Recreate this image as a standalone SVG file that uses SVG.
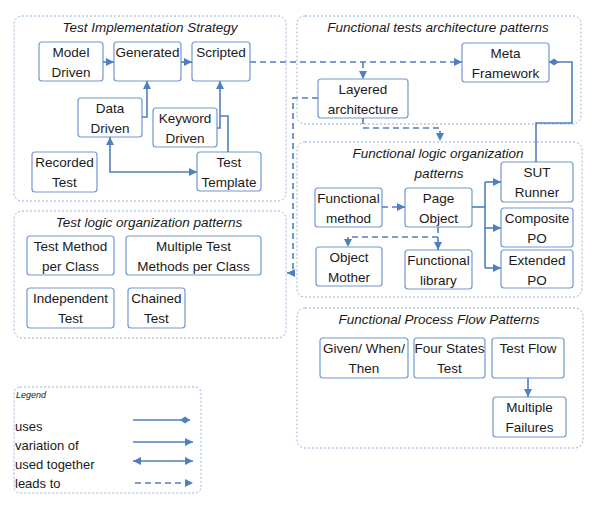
<svg xmlns="http://www.w3.org/2000/svg" width="593" height="505" viewBox="0 0 593 505">
<style>
.grp{fill:none;stroke:#8fb0da;stroke-width:1;stroke-dasharray:2,2}
.gt{font-family:"Liberation Sans",Arial,sans-serif;font-size:13.5px;font-style:italic;fill:#1a1a1a;text-anchor:middle}
.box{fill:#fff;stroke:#7098cf;stroke-width:1.2}
.t{font-family:"Liberation Sans",Arial,sans-serif;font-size:13.5px;fill:#1a1a1a;text-anchor:middle}
.lt{font-family:"Liberation Sans",Arial,sans-serif;font-size:13px;fill:#1a1a1a}
.c{fill:none;stroke:#4f7fc0;stroke-width:1.6}
.d{fill:none;stroke:#4f7fc0;stroke-width:1.6;stroke-dasharray:6,4}
</style>
<defs>
<marker id="ar" markerUnits="userSpaceOnUse" markerWidth="9" markerHeight="8" refX="8" refY="4" orient="auto-start-reverse">
<path d="M0,0 L8,4 L0,8 z" fill="#4f7fc0"/>
</marker>
<marker id="dm" markerUnits="userSpaceOnUse" markerWidth="11" markerHeight="8" refX="10" refY="4" orient="auto">
<path d="M0,4 L5,0.5 L10,4 L5,7.5 z" fill="#4f7fc0"/>
</marker>
</defs>
<rect width="593" height="505" fill="#fff"/>

<g id="group-impl">
<rect class="grp" x="14" y="16" width="272" height="185" rx="8"/>
<text class="gt" x="150" y="32">Test Implementation Strategy</text>
</g>
<g id="group-arch">
<rect class="grp" x="297" y="16" width="284" height="108" rx="8"/>
<text class="gt" x="438" y="32">Functional tests architecture patterns</text>
</g>
<g id="group-logic">
<rect class="grp" x="297" y="142" width="285" height="155" rx="8"/>
<text class="gt" x="438" y="158">Functional logic organization</text>
<text class="gt" x="439" y="178">patterns</text>
</g>
<g id="group-testlogic">
<rect class="grp" x="14" y="211" width="272" height="127" rx="8"/>
<text class="gt" x="149" y="227">Test logic organization patterns</text>
</g>
<g id="group-flow">
<rect class="grp" x="297" y="308" width="286" height="140" rx="8"/>
<text class="gt" x="439" y="324">Functional Process Flow Patterns</text>
</g>

<g id="model-driven"><rect class="box" x="39" y="42" width="64" height="39" rx="3"/><text class="t" x="71" y="57">Model</text><text class="t" x="71" y="77">Driven</text></g>
<g id="generated"><rect class="box" x="114" y="42" width="67" height="39" rx="3"/><text class="t" x="147.500" y="57">Generated</text></g>
<g id="scripted"><rect class="box" x="192" y="42" width="58" height="39" rx="3"/><text class="t" x="221" y="57">Scripted</text></g>
<g id="data-driven"><rect class="box" x="78" y="98" width="64" height="39" rx="3"/><text class="t" x="110" y="113">Data</text><text class="t" x="110" y="133">Driven</text></g>
<g id="keyword-driven"><rect class="box" x="153" y="108" width="64" height="39" rx="3"/><text class="t" x="185" y="123">Keyword</text><text class="t" x="185" y="143">Driven</text></g>
<g id="recorded-test"><rect class="box" x="32" y="152" width="65" height="40" rx="3"/><text class="t" x="64.500" y="167">Recorded</text><text class="t" x="64.500" y="187">Test</text></g>
<g id="test-template"><rect class="box" x="197" y="152" width="64" height="39" rx="3"/><text class="t" x="229" y="167">Test</text><text class="t" x="229" y="187">Template</text></g>

<g id="meta-framework"><rect class="box" x="462" y="43" width="87" height="39" rx="3"/><text class="t" x="505.500" y="58">Meta</text><text class="t" x="505.500" y="78">Framework</text></g>
<g id="layered-architecture"><rect class="box" x="318" y="79" width="90" height="39" rx="3"/><text class="t" x="363" y="94">Layered</text><text class="t" x="363" y="114">architecture</text></g>

<g id="functional-method"><rect class="box" x="315" y="188" width="67" height="39" rx="3"/><text class="t" x="348.500" y="203">Functional</text><text class="t" x="348.500" y="223">method</text></g>
<g id="page-object"><rect class="box" x="405" y="188" width="67" height="39" rx="3"/><text class="t" x="438.500" y="203">Page</text><text class="t" x="438.500" y="223">Object</text></g>
<g id="sut-runner"><rect class="box" x="501" y="162" width="72" height="40" rx="3"/><text class="t" x="537" y="177">SUT</text><text class="t" x="537" y="197">Runner</text></g>
<g id="composite-po"><rect class="box" x="501" y="208" width="72" height="39" rx="3"/><text class="t" x="537" y="223">Composite</text><text class="t" x="537" y="243">PO</text></g>
<g id="extended-po"><rect class="box" x="501" y="250" width="72" height="38" rx="3"/><text class="t" x="537" y="265">Extended</text><text class="t" x="537" y="285">PO</text></g>
<g id="object-mother"><rect class="box" x="316" y="247" width="66" height="39" rx="3"/><text class="t" x="349" y="262">Object</text><text class="t" x="349" y="282">Mother</text></g>
<g id="functional-library"><rect class="box" x="405" y="250" width="67" height="39" rx="3"/><text class="t" x="438.500" y="265">Functional</text><text class="t" x="438.500" y="285">library</text></g>

<g id="test-method-per-class"><rect class="box" x="27" y="236" width="87" height="39" rx="3"/><text class="t" x="70.500" y="251">Test Method</text><text class="t" x="70.500" y="271">per Class</text></g>
<g id="multiple-test-methods"><rect class="box" x="126" y="236" width="135" height="39" rx="3"/><text class="t" x="193.500" y="251">Multiple Test</text><text class="t" x="193.500" y="271">Methods per Class</text></g>
<g id="independent-test"><rect class="box" x="27" y="288" width="87" height="40" rx="3"/><text class="t" x="70.500" y="303">Independent</text><text class="t" x="70.500" y="323">Test</text></g>
<g id="chained-test"><rect class="box" x="128" y="288" width="57" height="40" rx="3"/><text class="t" x="156.500" y="303">Chained</text><text class="t" x="156.500" y="323">Test</text></g>

<g id="given-when-then"><rect class="box" x="320" y="338" width="88" height="40" rx="3"/><text class="t" x="364" y="353">Given/ When/</text><text class="t" x="364" y="373">Then</text></g>
<g id="four-states-test"><rect class="box" x="414" y="338" width="71" height="40" rx="3"/><text class="t" x="449.500" y="353">Four States</text><text class="t" x="449.500" y="373">Test</text></g>
<g id="test-flow"><rect class="box" x="492" y="338" width="72" height="40" rx="3"/><text class="t" x="528" y="353">Test Flow</text></g>
<g id="multiple-failures"><rect class="box" x="493" y="397" width="73" height="40" rx="3"/><text class="t" x="529.500" y="412">Multiple</text><text class="t" x="529.500" y="432">Failures</text></g>

<g id="connectors">
<path class="c" d="M103,62 H114" marker-end="url(#ar)"/>
<path class="c" d="M181,62 H192" marker-end="url(#ar)"/>
<path class="c" d="M142,117 H147 V81" marker-end="url(#ar)"/>
<path class="c" d="M217,128 H220 V81" marker-end="url(#ar)"/>
<path class="c" d="M228,152 V116 H220"/>
<path class="c" d="M110,137 V172 H197" marker-start="url(#ar)" marker-end="url(#ar)"/>
<path class="d" d="M250,62 H462" marker-end="url(#ar)"/>
<path class="d" d="M363,62 V79" marker-end="url(#ar)"/>
<path class="d" d="M363,118 V128 H440 V141" marker-end="url(#ar)"/>
<path class="d" d="M318,98 H293 V273 H287" marker-end="url(#ar)"/>
<path class="d" d="M382,207 H405" marker-end="url(#ar)"/>
<path class="c" d="M472,207 H485"/>
<path class="c" d="M485,182 V268"/>
<path class="c" d="M485,182 H501" marker-end="url(#ar)"/>
<path class="c" d="M485,228 H501" marker-end="url(#ar)"/>
<path class="c" d="M485,268 H501" marker-end="url(#ar)"/>
<path class="d" d="M438,227 V250" marker-end="url(#ar)"/>
<path class="d" d="M438,237 H348 V247" marker-end="url(#ar)"/>
<path class="c" d="M536,162 V123 H572 V62 H549" marker-end="url(#dm)"/>
<path class="c" d="M528,378 V397" marker-end="url(#ar)"/>
</g>

<g id="legend">
<rect class="grp" x="14" y="387" width="187" height="106" rx="6"/>
<text x="16" y="398" font-family="Liberation Sans,Arial,sans-serif" font-size="9" font-style="italic" fill="#1a1a1a">Legend</text>
<text class="lt" x="15" y="431">uses</text>
<text class="lt" x="15" y="450">variation of</text>
<text class="lt" x="15" y="469">used together</text>
<text class="lt" x="15" y="488">leads to</text>
<path class="c" d="M133,420 H190" marker-end="url(#dm)"/>
<path class="c" d="M133,442 H193" marker-end="url(#ar)"/>
<path class="c" d="M133,461 H193" marker-start="url(#ar)" marker-end="url(#ar)"/>
<path class="d" d="M135,483 H193" marker-end="url(#ar)"/>
</g>
</svg>
